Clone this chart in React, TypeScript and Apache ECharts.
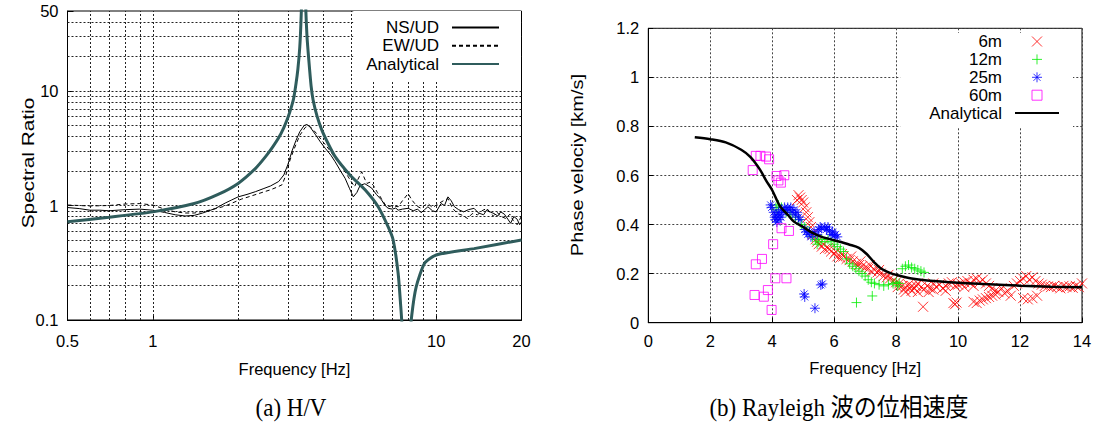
import React, { useEffect, useRef } from 'react';
import * as echarts from 'echarts';

// ---------- (a) H/V spectral ratio ----------
const hvNsUd: [number, number][] = [
  [0.5, 0.96], [0.55, 0.94], [0.6, 0.91], [0.65, 0.91], [0.7, 0.9], [0.8, 0.92], [0.9, 0.93], [1.0, 0.91],
  [1.1, 0.87], [1.2, 0.83], [1.3, 0.81], [1.4, 0.82], [1.5, 0.86], [1.66, 0.94], [1.8, 1.05], [1.9, 1.12],
  [2.0, 1.19], [2.15, 1.25], [2.3, 1.32], [2.45, 1.4], [2.6, 1.48], [2.78, 1.62], [2.9, 1.85], [3.0, 2.3],
  [3.1, 3.0], [3.2, 3.7], [3.3, 4.4], [3.42, 5.0], [3.5, 5.1], [3.6, 4.8], [3.74, 4.2], [3.9, 3.6],
  [4.06, 3.16], [4.25, 2.75], [4.4, 2.41], [4.6, 2.0], [4.77, 1.73], [4.95, 1.4], [5.1, 1.19], [5.25, 1.3],
  [5.39, 1.5], [5.6, 1.55], [5.92, 1.42], [6.15, 1.25], [6.41, 1.12], [6.6, 1.0], [6.77, 0.945], [7.0, 0.93],
  [7.2, 0.95], [7.34, 0.91], [7.6, 0.93], [7.96, 0.945], [8.3, 0.9], [8.6, 0.93], [8.85, 0.865], [9.1, 0.92],
  [9.35, 0.975], [9.7, 0.9], [10.0, 0.88], [10.4, 1.04], [10.7, 1.0], [11.0, 1.19], [11.3, 1.1], [11.6, 0.975],
  [12.0, 0.92], [12.5, 0.88], [13.0, 0.92], [13.6, 0.945], [14.1, 0.86], [14.7, 0.83], [15.1, 0.92], [15.5, 0.88],
  [16.0, 0.85], [16.5, 0.81], [16.9, 0.88], [17.4, 0.84], [17.9, 0.76], [18.3, 0.7], [18.8, 0.8], [19.3, 0.76],
  [19.7, 0.68], [20, 0.72],
];

const hvEwUd: [number, number][] = [
  [0.5, 1.01], [0.55, 1.0], [0.6, 0.99], [0.7, 1.0], [0.8, 1.03], [0.9, 1.04], [1.0, 1.01], [1.1, 0.93],
  [1.2, 0.88], [1.3, 0.86], [1.4, 0.86], [1.55, 0.9], [1.7, 0.95], [1.8, 0.99], [2.06, 1.14], [2.2, 1.2],
  [2.36, 1.27], [2.5, 1.33], [2.6, 1.37], [2.75, 1.45], [2.86, 1.52], [2.95, 1.85], [3.05, 2.5], [3.15, 3.1],
  [3.3, 4.1], [3.45, 4.8], [3.55, 5.0], [3.65, 4.7], [3.8, 4.2], [3.95, 3.7], [4.1, 3.3], [4.25, 2.95],
  [4.4, 2.6], [4.6, 2.25], [4.77, 1.97], [4.95, 1.7], [5.15, 1.46], [5.3, 1.7], [5.46, 1.97], [5.6, 1.7],
  [5.7, 1.56], [5.85, 1.6], [6.0, 1.5], [6.2, 1.3], [6.41, 1.15], [6.6, 1.02], [6.77, 0.975], [7.0, 1.0],
  [7.34, 0.975], [7.6, 1.1], [7.96, 1.27], [8.2, 1.12], [8.4, 1.04], [8.6, 0.98], [8.85, 0.945], [9.1, 1.0],
  [9.35, 1.04], [9.7, 0.96], [10.2, 1.04], [10.6, 1.1], [11.0, 1.15], [11.4, 0.95], [11.9, 0.85], [12.4, 0.82],
  [12.9, 0.77], [13.4, 0.85], [14.0, 0.83], [14.5, 0.9], [15.1, 0.945], [15.5, 0.86], [15.9, 0.81], [16.4, 0.87],
  [17.0, 0.8], [17.6, 0.77], [18.2, 0.84], [18.7, 0.74], [19.3, 0.68], [19.7, 0.75], [20, 0.81],
];

const hvAnalytical: [number, number][] = [
  [0.5, 0.72], [0.7, 0.79], [1.0, 0.88], [1.4, 1.04], [1.7, 1.25], [2.0, 1.56], [2.3, 2.1], [2.5, 2.67],
  [2.65, 3.25], [2.78, 3.9], [2.9, 4.8], [3.0, 5.9], [3.08, 7.2], [3.14, 8.6], [3.2, 11.5], [3.25, 15.5],
  [3.3, 24], [3.33, 38], [3.38, 110], [3.41, 200], [3.44, 110], [3.47, 48], [3.5, 30], [3.55, 19],
  [3.62, 11], [3.68, 8.3], [3.8, 6.0], [3.95, 4.56], [4.15, 3.5], [4.4, 2.67], [4.96, 1.85], [5.61, 1.37],
  [6.24, 0.975], [6.77, 0.65], [7.05, 0.5], [7.34, 0.256], [7.5, 0.13], [7.65, 0.06], [7.85, 0.01], [8.05, 0.06],
  [8.2, 0.11], [8.5, 0.195], [9.1, 0.313], [10, 0.37], [13.6, 0.42], [20, 0.5],
];

const hvGridFreq = [0.6, 0.7, 0.8, 0.9, 1, 2, 3, 4, 5, 6, 7, 8, 9, 10];
const hvGridRatio = [0.2, 0.3, 0.4, 0.5, 0.6, 0.7, 0.8, 0.9, 1, 2, 3, 4, 5, 6, 7, 8, 9, 10, 20, 30, 40];

// ---------- (b) Rayleigh phase velocity ----------
const pv6m: [number, number][] = [
  [4.8, 0.5], [4.85, 0.52], [4.9, 0.51], [4.95, 0.5], [5.0, 0.49], [5.05, 0.47], [5.1, 0.45], [5.15, 0.43],
  [5.2, 0.41], [5.25, 0.39], [5.4, 0.34], [5.5, 0.32], [5.6, 0.31], [5.7, 0.3], [5.8, 0.305], [5.9, 0.29],
  [6.0, 0.28], [6.1, 0.27], [6.2, 0.265], [6.3, 0.27], [6.4, 0.26], [6.5, 0.255], [6.6, 0.25], [6.7, 0.24],
  [6.8, 0.235], [6.9, 0.23], [7.0, 0.225], [7.1, 0.22], [7.2, 0.21], [7.3, 0.215], [7.4, 0.205], [7.5, 0.2],
  [7.6, 0.19], [7.7, 0.185], [7.8, 0.18], [7.9, 0.17], [8.0, 0.165], [8.1, 0.16], [8.2, 0.15], [8.3, 0.145],
  [8.4, 0.155], [8.5, 0.15], [8.6, 0.14], [8.7, 0.16], [8.8, 0.145], [8.9, 0.135], [9.0, 0.15], [9.1, 0.14],
  [9.2, 0.16], [9.3, 0.145], [9.4, 0.155], [9.5, 0.14], [9.6, 0.15], [9.7, 0.16], [9.8, 0.165], [9.9, 0.15],
  [10.0, 0.155], [10.1, 0.16], [10.2, 0.165], [10.3, 0.17], [10.4, 0.16], [10.5, 0.175], [10.6, 0.18], [10.7, 0.165],
  [10.8, 0.175], [10.9, 0.16], [11.0, 0.15], [11.1, 0.14], [11.2, 0.13], [11.3, 0.125], [11.4, 0.14], [11.5, 0.12],
  [11.6, 0.13], [11.7, 0.11], [11.8, 0.15], [11.9, 0.16], [12.0, 0.17], [12.1, 0.18], [12.2, 0.19], [12.3, 0.175],
  [12.4, 0.185], [12.5, 0.17], [12.6, 0.16], [12.7, 0.155], [12.8, 0.15], [12.9, 0.148], [13.0, 0.145], [13.1, 0.15],
  [13.2, 0.145], [13.3, 0.14], [13.4, 0.15], [13.5, 0.145], [13.6, 0.148], [13.7, 0.142], [13.8, 0.15], [13.9, 0.145],
  [14.0, 0.16], [8.3, 0.125], [8.5, 0.13], [8.7, 0.125], [9.2, 0.135], [9.6, 0.13], [10.2, 0.145], [10.5, 0.15],
  [10.5, 0.085], [10.6, 0.08], [10.7, 0.09], [10.8, 0.095], [10.9, 0.1], [11.0, 0.105], [11.1, 0.11], [11.2, 0.115],
  [12.1, 0.1], [12.25, 0.095], [12.4, 0.1], [12.55, 0.11], [8.87, 0.065], [9.85, 0.08], [9.9, 0.075], [9.95, 0.082],
  [5.3, 0.36], [5.45, 0.33], [5.65, 0.32], [5.85, 0.3], [6.05, 0.29], [6.25, 0.28], [6.55, 0.27], [6.85, 0.25],
  [7.15, 0.235], [7.45, 0.215], [7.75, 0.195], [8.05, 0.145], [8.25, 0.135], [8.45, 0.14], [8.65, 0.15], [9.05, 0.125],
];

const pv12m: [number, number][] = [
  [4.12, 0.47], [4.15, 0.46], [4.2, 0.48], [4.3, 0.47], [4.45, 0.45], [4.6, 0.44], [4.75, 0.43], [4.85, 0.42],
  [4.95, 0.4], [5.05, 0.39], [5.2, 0.37], [5.3, 0.35], [5.4, 0.34], [5.45, 0.32], [5.5, 0.33], [5.6, 0.34],
  [5.7, 0.33], [5.8, 0.34], [5.9, 0.33], [6.0, 0.32], [6.1, 0.31], [6.2, 0.3], [6.3, 0.29], [6.4, 0.26],
  [6.5, 0.24], [6.6, 0.23], [6.7, 0.22], [6.8, 0.21], [6.9, 0.2], [7.0, 0.19], [7.1, 0.175], [7.2, 0.165],
  [7.3, 0.16], [7.45, 0.155], [7.6, 0.15], [7.75, 0.155], [7.9, 0.16], [8.0, 0.165], [8.05, 0.15], [8.1, 0.16],
  [8.2, 0.22], [8.3, 0.23], [8.4, 0.235], [8.5, 0.225], [8.6, 0.22], [8.7, 0.215], [8.8, 0.21], [8.9, 0.205],
  [6.72, 0.082], [7.23, 0.109],
];

const pv25m: [number, number][] = [
  [3.95, 0.48], [3.98, 0.47], [4.05, 0.45], [4.08, 0.43], [4.1, 0.42], [4.12, 0.44], [4.15, 0.41], [4.18, 0.43],
  [4.2, 0.45], [4.22, 0.42], [4.25, 0.44], [4.28, 0.43], [4.3, 0.46], [4.35, 0.45], [4.4, 0.47], [4.45, 0.46],
  [4.5, 0.47], [4.55, 0.46], [4.6, 0.47], [4.65, 0.45], [4.7, 0.46], [4.75, 0.44], [4.8, 0.45], [4.85, 0.43],
  [4.9, 0.42], [5.05, 0.38], [5.1, 0.37], [5.15, 0.36], [5.2, 0.37], [5.25, 0.35], [5.35, 0.37], [5.45, 0.36],
  [5.5, 0.38], [5.55, 0.39], [5.6, 0.385], [5.7, 0.39], [5.75, 0.38], [5.8, 0.39], [5.85, 0.375], [5.9, 0.36],
  [5.95, 0.37], [6.0, 0.355], [6.05, 0.36], [6.1, 0.35], [5.03, 0.117], [5.05, 0.105], [5.57, 0.154], [5.62, 0.158],
  [5.38, 0.059],
];

const pv60m: [number, number][] = [
  [3.37, 0.622], [3.47, 0.68], [3.62, 0.68], [3.8, 0.677], [3.9, 0.666], [4.14, 0.598], [4.39, 0.601], [4.28, 0.571],
  [4.2, 0.58], [4.3, 0.385], [4.54, 0.374], [4.03, 0.32], [3.67, 0.26], [3.47, 0.238], [4.1, 0.181], [4.46, 0.181],
  [3.43, 0.113], [3.73, 0.106], [3.86, 0.133], [3.98, 0.052],
];

const pvAnalytical: [number, number][] = [
  [1.5, 0.756], [2.0, 0.748], [2.5, 0.735], [3.0, 0.705], [3.3, 0.675], [3.6, 0.625], [3.8, 0.58], [4.0, 0.54],
  [4.25, 0.475], [4.5, 0.44], [4.7, 0.412], [5.0, 0.39], [5.3, 0.366], [5.6, 0.35], [6.0, 0.336], [6.5, 0.318],
  [6.8, 0.305], [7.05, 0.28], [7.3, 0.245], [7.5, 0.222], [7.8, 0.203], [8.0, 0.195], [8.5, 0.18], [9.0, 0.172],
  [10, 0.163], [11, 0.157], [12, 0.151], [13, 0.147], [14, 0.144],
];

const SANS = '"Liberation Sans", Arial, Helvetica, sans-serif';
const TEAL = '#2f5c5c';
const GREEN = '#00ee00';
const CROSS = 'path://M0 0L10 10M10 0L0 10';
const PLUS = 'path://M5 0L5 10M0 5L10 5';
const STAR = 'path://M5 0L5 10M0 5L10 5M1.5 1.5L8.5 8.5M8.5 1.5L1.5 8.5';
const SQUARE = 'path://M0 0L10 0L10 10L0 10Z';

const fmtNum = (v: number) => String(Number(v.toPrecision(6)));

export default function App() {
  const ref = useRef<HTMLDivElement>(null);
  useEffect(() => {
    document.body.style.margin = '0';
    const chart = echarts.init(ref.current!, null, { renderer: 'svg' });
    const tickLabel = { color: '#000', fontSize: 16.5, fontFamily: SANS };
    const nameStyle = { color: '#000', fontSize: 16.5, fontFamily: SANS };
    const scatterStyle = (c: string) => ({ color: 'rgba(0,0,0,0)', borderColor: c, borderWidth: 1 });
    const noSymbol = { color: 'rgba(0,0,0,0)', borderWidth: 0, opacity: 0 };
    const option: any = {
      animation: false,
      backgroundColor: '#fff',
      grid: [
        { left: 67.5, top: 11, width: 454, height: 309, show: true, borderColor: '#000', borderWidth: 1 },
        { left: 648.3, top: 28.3, width: 433.7, height: 294.4, show: true, borderColor: '#000', borderWidth: 1 },
      ],
      xAxis: [
        {
          type: 'log', gridIndex: 0, min: 0.5, max: 20, logBase: 10,
          name: 'Frequency [Hz]', nameLocation: 'middle', nameGap: 40, nameTextStyle: nameStyle,
          axisLine: { show: true, lineStyle: { color: '#000' } },
          axisTick: { show: true, inside: true, length: 6, lineStyle: { color: '#000' } },
          axisLabel: { ...tickLabel, margin: 12, formatter: fmtNum, showMinLabel: true, showMaxLabel: true },
          splitLine: { show: false },
        },
        {
          type: 'value', gridIndex: 1, min: 0, max: 14, interval: 2,
          name: 'Frequency [Hz]', nameLocation: 'middle', nameGap: 37, nameTextStyle: nameStyle,
          axisLine: { show: true, lineStyle: { color: '#000' } },
          axisTick: { show: true, inside: true, length: 5, lineStyle: { color: '#000' } },
          axisLabel: { ...tickLabel, margin: 10 },
          splitLine: { show: true, lineStyle: { color: '#444', type: [2, 2], width: 1 } },
        },
      ],
      yAxis: [
        {
          type: 'log', gridIndex: 0, min: 0.1, max: 50, logBase: 10,
          axisLine: { show: true, lineStyle: { color: '#000' } },
          axisTick: { show: true, inside: true, length: 6, lineStyle: { color: '#000' } },
          axisLabel: { ...tickLabel, margin: 9, formatter: fmtNum, showMinLabel: true, showMaxLabel: true },
          splitLine: { show: false },
        },
        {
          type: 'value', gridIndex: 1, min: 0, max: 1.2, interval: 0.2,
          axisLine: { show: true, lineStyle: { color: '#000' } },
          axisTick: { show: true, inside: true, length: 5, lineStyle: { color: '#000' } },
          axisLabel: { ...tickLabel, margin: 9 },
          splitLine: { show: true, lineStyle: { color: '#444', type: [2, 2], width: 1 } },
        },
      ],
      legend: [
        {
          orient: 'vertical', right: 576, top: 11, align: 'right', selectedMode: false,
          itemWidth: 47, itemHeight: 10, itemGap: 1.3, padding: [8, 21, 8, 13], backgroundColor: '#fff',
          textStyle: { fontSize: 17, fontFamily: SANS, color: '#000', lineHeight: 17, padding: [0, 8, 0, 0] },
          data: [
            { name: 'NS/UD', itemStyle: noSymbol },
            { name: 'EW/UD', itemStyle: noSymbol },
            { name: 'Analytical', itemStyle: noSymbol },
          ],
        },
        {
          orient: 'vertical', right: 24, top: 33, align: 'right', selectedMode: false,
          itemWidth: 44, itemHeight: 10, itemGap: 0.9, padding: [0, 13, 6, 29], backgroundColor: '#fff',
          textStyle: { fontSize: 17, fontFamily: SANS, color: '#000', lineHeight: 16, padding: [0, 8, 0, 0] },
          formatter: (n: string) => (n === 'Analytical-b' ? 'Analytical' : n),
          data: [
            { name: '6m', itemStyle: scatterStyle('#ff0000') },
            { name: '12m', itemStyle: scatterStyle(GREEN) },
            { name: '25m', itemStyle: scatterStyle('#0000ff') },
            { name: '60m', itemStyle: scatterStyle('#ff00ff') },
            { name: 'Analytical-b', itemStyle: noSymbol },
          ],
        },
      ],
      graphic: [
        { type: 'text', x: 28, y: 163, rotation: Math.PI / 2, scaleX: 1.3,
          style: { text: 'Spectral Ratio', font: `16px ${SANS}`, fill: '#000', align: 'center', verticalAlign: 'middle' } },
        { type: 'text', x: 578, y: 165, rotation: Math.PI / 2, scaleX: 1.25,
          style: { text: 'Phase velociy [km/s]', font: `16px ${SANS}`, fill: '#000', align: 'center', verticalAlign: 'middle' } },
        { type: 'text', x: 291, y: 407, scaleY: 1.1,
          style: { text: '(a) H/V', font: '23px "Liberation Serif", serif', fill: '#000', align: 'center', verticalAlign: 'middle' } },
        { type: 'text', x: 839, y: 407, scaleY: 1.1,
          style: { text: '(b) Rayleigh 波の位相速度', font: '23px "Liberation Serif", "Noto Sans CJK JP", serif', fill: '#000', align: 'center', verticalAlign: 'middle' } },
      ],
      series: [
        {
          name: 'NS/UD', type: 'line', xAxisIndex: 0, yAxisIndex: 0, data: hvNsUd, symbol: 'none',
          lineStyle: { color: '#000', width: 1 }, itemStyle: { color: '#000' },
          markLine: {
            silent: true, z: 1, symbol: ['none', 'none'], label: { show: false },
            lineStyle: { color: '#222', type: [2, 2], width: 1 },
            emphasis: { disabled: true },
            data: [
              ...hvGridFreq.map((v) => ({ xAxis: v })),
              ...hvGridRatio.map((v) => ({ yAxis: v })),
            ],
          },
        },
        {
          name: 'EW/UD', type: 'line', xAxisIndex: 0, yAxisIndex: 0, data: hvEwUd, symbol: 'none',
          lineStyle: { color: '#000', width: 1, type: [4, 3] }, itemStyle: { color: '#000' },
        },
        {
          name: 'Analytical', type: 'line', xAxisIndex: 0, yAxisIndex: 0, data: hvAnalytical, symbol: 'none',
          smooth: 0.2, lineStyle: { color: TEAL, width: 3 }, itemStyle: { color: TEAL },
        },
        {
          name: '6m', type: 'scatter', xAxisIndex: 1, yAxisIndex: 1, data: pv6m, symbol: CROSS, symbolSize: 10,
          itemStyle: scatterStyle('#ff0000'),
        },
        {
          name: '12m', type: 'scatter', xAxisIndex: 1, yAxisIndex: 1, data: pv12m, symbol: PLUS, symbolSize: 10,
          itemStyle: scatterStyle(GREEN),
        },
        {
          name: '25m', type: 'scatter', xAxisIndex: 1, yAxisIndex: 1, data: pv25m, symbol: STAR, symbolSize: 10,
          itemStyle: scatterStyle('#0000ff'),
        },
        {
          name: '60m', type: 'scatter', xAxisIndex: 1, yAxisIndex: 1, data: pv60m, symbol: SQUARE, symbolSize: 9,
          itemStyle: scatterStyle('#ff00ff'),
        },
        {
          name: 'Analytical-b', type: 'line', xAxisIndex: 1, yAxisIndex: 1, data: pvAnalytical, symbol: 'none',
          smooth: 0.3, lineStyle: { color: '#000', width: 2.5 }, itemStyle: { color: '#000' },
        },
      ],
    };
    chart.setOption(option);
    return () => chart.dispose();
  }, []);
  return <div ref={ref} style={{ width: 1097, height: 423 }} />;
}
